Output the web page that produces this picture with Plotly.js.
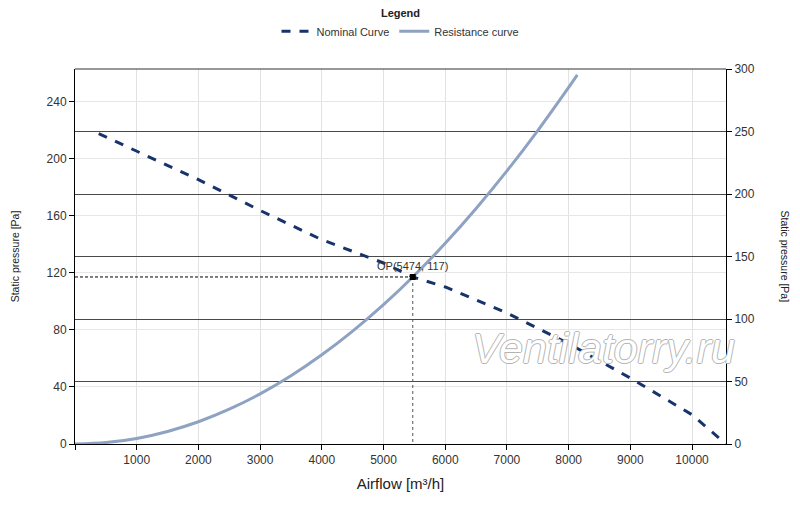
<!DOCTYPE html>
<html>
<head>
<meta charset="utf-8">
<script src="https://cdn.plot.ly/plotly-3.0.1.min.js"></script>
<style>
html,body{margin:0;padding:0;background:#fff;}
#chart{width:800px;height:507px;}
</style>
</head>
<body>
<div id="chart"></div>
<script>
// Airflow [m³/h] vs static pressure [Pa]
const nominalX = [384, 1000, 2000, 3000, 4000, 5000, 5474, 6000, 7000, 8000, 9000, 10000, 10550];
const nominalY = [217.4, 205.0, 185.2, 163.6, 143.1, 126.8, 117, 110.0, 91.8, 70.3, 46.2, 20.5, 0];

const resistX = [0, 500, 1000, 1500, 2000, 2500, 3000, 3500, 4000, 4500, 5000, 5474, 6000, 6500, 7000, 7500, 8000, 8140];
const resistY = [0, 1.0, 3.9, 8.8, 15.6, 24.4, 35.1, 47.8, 62.5, 79.1, 97.6, 117, 140.6, 165.0, 191.3, 219.6, 249.8, 258.6];

const opX = 5474;
const opY = 117;
const opLabel = 'OP(5474, 117)';

const xTicks = [0, 1000, 2000, 3000, 4000, 5000, 6000, 7000, 8000, 9000, 10000];
const xTickText = ['', '1000', '2000', '3000', '4000', '5000', '6000', '7000', '8000', '9000', '10000'];
const leftTicks = [0, 40, 80, 120, 160, 200, 240];
const rightTicks = [0, 50, 100, 150, 200, 250, 300];

const font = 'Liberation Sans, Arial, sans-serif';

const traces = [
  {
    x: nominalX, y: nominalY, type: 'scatter', mode: 'lines', name: 'Nominal Curve',
    line: {color: '#17336b', width: 3, dash: 'dash'}
  },
  {
    x: resistX, y: resistY, type: 'scatter', mode: 'lines', name: 'Resistance curve',
    line: {color: '#8ea2c2', width: 3, shape: 'spline'}
  },
  {
    x: [0, opX], y: [opY, opY], type: 'scatter', mode: 'lines', showlegend: false, hoverinfo: 'skip',
    line: {color: '#000', width: 1, dash: '3px,2px'}
  },
  {
    x: [opX, opX], y: [opY, 0], type: 'scatter', mode: 'lines', showlegend: false, hoverinfo: 'skip',
    line: {color: '#555', width: 1, dash: 'dot'}
  },
  {
    x: [opX], y: [opY], type: 'scatter', mode: 'markers', showlegend: false, hoverinfo: 'skip',
    marker: {color: '#000', size: 6, symbol: 'square'}
  },
  {
    x: [0, 10550], y: [0, 300], yaxis: 'y2', type: 'scatter', mode: 'markers', showlegend: false,
    hoverinfo: 'skip', marker: {opacity: 0}
  }
];

const layout = {
  width: 800, height: 507,
  margin: {l: 74.5, r: 74.3, t: 69, b: 63},
  paper_bgcolor: '#fff', plot_bgcolor: '#fff',
  font: {family: font, size: 12, color: '#333'},
  showlegend: true,
  legend: {
    orientation: 'h', x: 0.5, xanchor: 'center', yref: 'container', y: 0.995, yanchor: 'top',
    font: {family: font, size: 11, color: '#333'},
    title: {text: '<b>Legend</b>', side: 'top center', font: {family: font, size: 11, color: '#222'}},
    itemwidth: 30, tracegroupgap: 0, bgcolor: 'rgba(0,0,0,0)'
  },
  xaxis: {
    range: [0, 10550], tickvals: xTicks, ticktext: xTickText,
    showgrid: true, gridcolor: '#e2e2e2', gridwidth: 1,
    zeroline: false, showline: true, linecolor: '#000', linewidth: 1, mirror: false,
    ticks: 'outside', ticklen: 5, tickcolor: '#000',
    tickfont: {family: font, size: 12, color: '#333'},
    title: {text: 'Airflow [m³/h]', font: {family: font, size: 15, color: '#222'}, standoff: 12}
  },
  yaxis: {
    range: [0, 262.7], tickvals: leftTicks,
    showgrid: true, gridcolor: '#e6e6e6', gridwidth: 1,
    zeroline: false, showline: true, linecolor: '#000', linewidth: 1,
    ticks: 'outside', ticklen: 5, tickcolor: '#000',
    tickfont: {family: font, size: 12, color: '#333'},
    title: {text: 'Static pressure [Pa]', font: {family: font, size: 10.5, color: '#222'}, standoff: 24}
  },
  yaxis2: {
    range: [0, 300], tickvals: rightTicks, overlaying: 'y', side: 'right',
    showgrid: true, gridcolor: '#4a4a4a', gridwidth: 1,
    zeroline: false, showline: true, linecolor: '#000', linewidth: 1,
    ticks: 'outside', ticklen: 5, tickcolor: '#000',
    tickfont: {family: font, size: 12, color: '#333'}
  },
  shapes: [
    {type: 'line', xref: 'paper', yref: 'paper', x0: 0, x1: 1, y0: 1, y1: 1, line: {color: '#333', width: 1}}
  ],
  annotations: [
    {
      x: opX, y: opY, xref: 'x', yref: 'y', text: opLabel, showarrow: false,
      yanchor: 'bottom', xanchor: 'center', yshift: 3,
      font: {family: font, size: 11, color: '#333'}
    },
    {
      xref: 'paper', yref: 'paper', x: 1, y: 0.5, xanchor: 'center', yanchor: 'middle', xshift: 59,
      text: 'Static pressure [Pa]', showarrow: false, textangle: 90,
      font: {family: font, size: 10.5, color: '#222'}
    },
    {
      xref: 'x', yref: 'y', x: 8560, y: 67, text: 'Ventilatorry.ru', showarrow: false,
      font: {family: font, size: 43, color: '#ffffff', style: 'italic',
             shadow: '1px 0 0 #b4b4b4, -1px 0 0 #b4b4b4, 0 1px 0 #b4b4b4, 0 -1px 0 #b4b4b4'}
    }
  ]
};

Plotly.newPlot('chart', traces, layout, {staticPlot: true, displayModeBar: false});
</script>
</body>
</html>
